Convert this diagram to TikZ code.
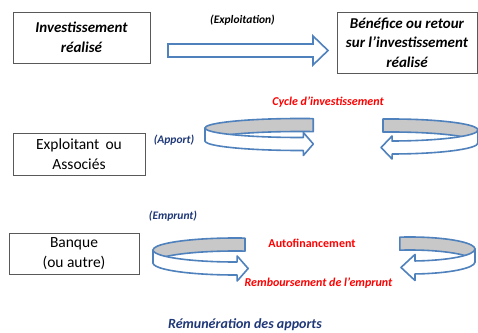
\documentclass[tikz,border=0pt]{standalone}
\usepackage{fontspec}
\setmainfont{Carlito}
\usetikzlibrary{calc}
\definecolor{ringblue}{RGB}{79,129,189}
\definecolor{ringgrey}{RGB}{200,200,200}
\definecolor{navy}{RGB}{31,56,120}
\definecolor{redtxt}{RGB}{255,0,0}
\tikzset{
  box/.style={draw=black!65, line width=0.8pt, fill=white, align=center, inner sep=0pt},
  boxtxt/.style={font=\fontsize{15}{19.5}\selectfont\bfseries\itshape},
  boxtxtup/.style={font=\fontsize{15.5}{20}\selectfont},
  smalllab/.style={font=\fontsize{11.5}{13}\selectfont\bfseries\itshape},
  redlab/.style={text=redtxt, font=\fontsize{12}{14}\selectfont\bfseries\itshape},
  redlabup/.style={text=redtxt, font=\fontsize{12}{14}\selectfont\bfseries},
  ringback/.style={draw=ringblue, fill=ringgrey, line width=1.6pt, line join=round},
  ringfront/.style={draw=ringblue, fill=white, line width=1.6pt, line join=round},
  blockarrow/.style={draw=ringblue, fill=white, line width=1.6pt, line join=miter}
}
% ring pointing right: cx, cy, a, b, h, tb, tf, w, L
\newcommand\ringPR[9]{%
  \filldraw[ringback] ($(#1,#2)+(#6:#3pt and #4pt)$)
    arc[start angle=#6,end angle=180,x radius=#3pt,y radius=#4pt] -- ++(0,-#5)
    arc[start angle=180,end angle=#6,x radius=#3pt,y radius=#4pt] -- cycle;
  \filldraw[ringfront] ($(#1,#2)+(180:#3pt and #4pt)$)
    arc[start angle=180,end angle=#7,x radius=#3pt,y radius=#4pt]
    -- ++(0,#8) -- ++(#9,{-#8-#5/2}) -- ++(-#9,{-#8-#5/2}) -- ++(0,#8)
    arc[start angle=#7,end angle=180,x radius=#3pt,y radius=#4pt] -- cycle;
}
% ring pointing left
\newcommand\ringPL[9]{%
  \filldraw[ringback] ($(#1,#2)+(#6:#3pt and #4pt)$)
    arc[start angle=#6,end angle=0,x radius=#3pt,y radius=#4pt] -- ++(0,-#5)
    arc[start angle=0,end angle=#6,x radius=#3pt,y radius=#4pt] -- cycle;
  \filldraw[ringfront] ($(#1,#2)+(0:#3pt and #4pt)$)
    arc[start angle=360,end angle=#7,x radius=#3pt,y radius=#4pt]
    -- ++(0,#8) -- ++(-#9,{-#8-#5/2}) -- ++(#9,{-#8-#5/2}) -- ++(0,#8)
    arc[start angle=#7,end angle=360,x radius=#3pt,y radius=#4pt] -- cycle;
}
\begin{document}
\begin{tikzpicture}[x=1pt,y=1pt]
\useasboundingbox (0,0) rectangle (478,332);
\fill[white] (0,0) rectangle (478,332);

% boxes
\node[box, boxtxt, minimum width=137pt, minimum height=51pt] (inv) at (81.5,294.5)
  {Investissement\\réalisé};
\node[box, boxtxt, minimum width=140pt, minimum height=61pt] (ben) at (407,289.5)
  {Bénéfice ou retour\\sur l’investissement\\réalisé};
\node[box, boxtxtup, minimum width=132pt, minimum height=42pt] (expl) at (79,178)
  {Exploitant\, ou\\Associés};
\node[box, boxtxtup, minimum width=130pt, minimum height=41pt] (banq) at (74,78.5)
  {Banque\\(ou autre)};

% block arrow
\filldraw[blockarrow] (168,288) -- (313,288) -- (313,296) -- (328,281.5)
  -- (313,267) -- (313,275) -- (168,275) -- cycle;

% rings
\ringPR{300}{204}{95}{9.5}{13}{82}{272}{5}{10}
\ringPL{391}{202}{87}{11}{13}{95.3}{270.7}{5}{11}
\ringPR{235}{82}{82}{12}{13}{83}{271.5}{6}{11}
\ringPL{410}{83}{65}{12}{13}{99}{274.4}{6.5}{14}

% labels
\node[smalllab, text=black] (lexp) at (242.5,312) {(Exploitation)};
\node[smalllab, text=navy] (lapp) at (174,192) {(Apport)};
\node[smalllab, text=navy] (lemp) at (173,116) {(Emprunt)};
\node[redlab] (lcyc) at (328,230) {Cycle d’investissement};
\node[redlabup] (lauto) at (312,89) {Autofinancement};
\node[redlab] (lremb) at (318.5,49) {Remboursement de l’emprunt};
\node[text=navy, font=\fontsize{14}{16}\selectfont\bfseries\itshape, anchor=base, inner sep=0pt] (lrem) at (245,3.5) {Rémunération des apports};
\end{tikzpicture}
\end{document}
